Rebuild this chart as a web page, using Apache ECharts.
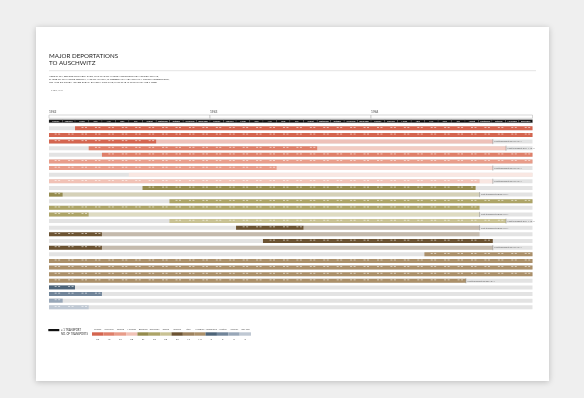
<!DOCTYPE html>
<html><head><meta charset="utf-8">
<script src="https://cdn.jsdelivr.net/npm/echarts@6/dist/echarts.min.js"></script>
<style>html,body{margin:0;padding:0;background:#efefef}#c{width:584px;height:398px}</style>
</head><body><div id="c"></div>
<script>
// ---------- data ----------
const months = ['January','February','March','April','May','June','July','August','September','October','November','December'];
const years = [1942, 1943, 1944];
const countries = ['France','Slovakia','Poland','Holland','Belgium','Germany','Czech','Greece','Italy','Hungary','Yugoslavia','Austria','Norway','OTHER'];
const transportsPerCountry = [69, 19, 97, 68, 27, 59, 63, 22, 12, 147, 3, 6, 3, 6];

const rowCountry   = [0,0,0,1,1,2,2,3,3,4,4,5,5,5,6,7,7,7,7,9,9,9,9,9,10,11,12,13];
const rowStart     = ['1942-03-01','1942-01-01','1942-01-01','1942-04-01','1942-05-01','1942-01-01','1942-01-01','1942-07-01','1942-01-01','1942-08-01',
                      '1942-01-01','1942-10-01','1942-01-01','1942-01-01','1942-10-01','1943-03-01','1942-01-01','1943-05-01','1942-01-01','1944-05-01',
                      '1942-01-01','1942-01-01','1942-01-01','1942-01-01','1942-01-01','1942-01-01','1942-01-01','1942-01-01'];
const rowActiveEnd = ['1945-01-01','1945-01-01','1942-09-01','1943-09-01','1945-01-01','1945-01-01','1943-06-01','1942-07-01','1944-09-03','1944-08-25',
                      '1942-02-01','1945-01-01','1944-09-03','1942-04-01','1944-11-02','1943-08-01','1942-05-01','1944-10-03','1942-05-01','1945-01-01',
                      '1945-01-01','1945-01-01','1945-01-01','1944-08-03','1942-03-01','1942-05-01','1942-02-01','1942-04-01'];
const rowEnd       = ['1945-01-01','1945-01-01','1944-10-03','1944-11-02','1945-01-01','1945-01-01','1944-10-03','1945-01-01','1944-10-03','1944-08-25',
                      '1944-09-03','1945-01-01','1944-09-03','1944-09-03','1944-11-02','1944-09-03','1944-09-03','1944-10-03','1944-10-03','1945-01-01',
                      '1945-01-01','1945-01-01','1945-01-01','1944-08-03','1942-03-01','1942-05-01','1942-02-01','1942-04-01'];
const rowLastTransport = ['','','03.10.1944','02.11.1944','','','03.10.1944','','03.10.1944','',
                          '03.09.1944','','','03.09.1944','02.11.1944','03.09.1944','','','03.10.1944','',
                          '','','','03.08.1944','','','',''];

// ---------- styles ----------
const palette = ['#d4654f','#df7f69','#e89c89','#f1c2b6','#958b4d','#ada467','#c9c294','#6c5332','#9d825e','#ab906a','#4d6479','#71859a','#98a7b8','#bfc8d3'];
function pale(hex, k){
  const n = parseInt(hex.slice(1),16);
  const r=(n>>16)&255,g=(n>>8)&255,b=n&255;
  const f=v=>Math.round(v+(255-v)*k);
  return 'rgb('+f(r)+','+f(g)+','+f(b)+')';
}
const ts = s => { const [y,m,d]=s.split('-').map(Number); return new Date(y,m-1,d).getTime(); };
const T0 = ts('1942-01-01'), T1 = ts('1945-01-01');
const FONT = 'Lato';

const rowData = rowCountry.map((c,i)=>[i, ts(rowStart[i]), ts(rowActiveEnd[i]), ts(rowEnd[i]), c]);
const headerData = [];
years.forEach((y,yi)=>months.forEach((m,mi)=>{
  headerData.push([new Date(y,mi,1).getTime(), new Date(y,mi+1,1).getTime(), yi, mi, new Date(y+1,0,1).getTime()]);
}));

function renderRow(params, api){
  const r = api.value(0);
  const s = api.value(1), a = api.value(2), e = api.value(3), c = api.value(4);
  const y = api.coord([T0, r])[1];
  const h = 4;
  const x0 = api.coord([T0, r])[0], x1 = api.coord([T1, r])[0];
  const xs = api.coord([s, r])[0], xa = api.coord([a, r])[0], xe = api.coord([e, r])[0];
  const ch = [{type:'rect', shape:{x:x0, y:y-h/2, width:x1-x0, height:h}, style:{fill:'#e3e3e3'}}];
  if (xe > xa) ch.push({type:'rect', shape:{x:xa, y:y-h/2, width:xe-xa, height:h}, style:{fill:pale(palette[c],0.6)}});
  if (xa > xs) {
    ch.push({type:'rect', shape:{x:xs, y:y-h/2, width:xa-xs, height:h}, style:{fill:palette[c]}});
    const mw = (x1-x0)/36;
    for (let k=0;k<36;k++){
      const mx = x0 + k*mw;
      [0.42,0.68].forEach(f=>{
        const px = mx + f*mw;
        if (px >= xs && px + 2 <= xa) ch.push({type:'rect', shape:{x:px, y:y-h/2+0.7, width:2, height:0.8}, style:{fill:'rgba(255,255,255,0.7)'}});
      });
    }
  }
  const lbl = rowLastTransport[r];
  if (lbl) {
    ch.push({type:'line', shape:{x1:xe, y1:y-h/2-0.6, x2:xe, y2:y+h/2+0.6}, style:{stroke:'#777', lineWidth:0.4}});
    ch.push({type:'text', style:{text:'Last transport '+lbl, x:xe+1.5, y:y, verticalAlign:'middle', fill:'#666', fontSize:2.4, fontFamily:FONT}});
  }
  return {type:'group', children:ch};
}

function renderHeader(params, api){
  const cs = params.coordSys;
  const xa = api.coord([api.value(0),0])[0], xb = api.coord([api.value(1),0])[0];
  const yi = api.value(2), mi = api.value(3);
  const ch = [
    {type:'rect', shape:{x:xa, y:cs.y+4.7, width:xb-xa, height:3}, style:{fill:'#111', stroke:'#777', lineWidth:0.25}},
    {type:'text', style:{text:months[mi], x:(xa+xb)/2, y:cs.y+6.25, align:'center', verticalAlign:'middle', fill:'#fff', fontSize:2.1, fontFamily:FONT}}
  ];
  if (mi === 0) {
    const xe = api.coord([api.value(4),0])[0];
    ch.push({type:'rect', shape:{x:xa, y:cs.y, width:xe-xa, height:3.3}, style:{fill:'#fff', stroke:'#999', lineWidth:0.4}});
    ch.push({type:'text', style:{text:String(years[yi]), x:xa, y:cs.y-3.2, verticalAlign:'middle', fill:'#444', fontSize:3.2, fontFamily:FONT}});
  }
  return {type:'group', children:ch};
}

const chart = echarts.init(document.getElementById('c'), null, {renderer:'canvas'});
chart.setOption({
  animation:false,
  backgroundColor:'#efefef',
  graphic:[
    {type:'rect', z:-10, shape:{x:36, y:27, width:513, height:354}, style:{fill:'#fff', shadowBlur:6, shadowColor:'rgba(0,0,0,0.22)', shadowOffsetY:1}},
    {type:'text', z:5, style:{text:'MAJOR DEPORTATIONS\nTO AUSCHWITZ', x:49, y:52, fill:'#222', fontSize:6.2, lineHeight:7.5, fontFamily:FONT}},
    {type:'line', z:5, shape:{x1:49, y1:70.7, x2:536, y2:70.7}, style:{stroke:'#c8c8c8', lineWidth:0.5}},
    {type:'text', z:5, style:{text:'HERE THEN, BEFORE OUR VERY EYES, WAS ONE OF THOSE NOTORIOUS TRANSPORT TRAINS,\nTHOSE WHICH NEVER RETURN, AND OF WHICH, SHUDDERING AND ALWAYS A LITTLE INCREDULOUS,\nWE HAD SO OFTEN HEARD SPEAK. EXACTLY LIKE THIS; THIS TIME IT IS US WHO ARE INSIDE', x:49, y:74.5, fill:'#333', fontSize:2.5, lineHeight:3.2, fontFamily:FONT}},
    {type:'text', z:5, style:{text:'— P. LEVI, 1947', x:49, y:89.8, fill:'#666', fontSize:2, fontFamily:FONT}},
    {type:'rect', z:5, shape:{x:48.3, y:329, width:11, height:2.2}, style:{fill:'#111'}},
    {type:'text', z:5, style:{text:'= 1 TRANSPORT', x:61, y:330.1, verticalAlign:'middle', fill:'#333', fontSize:2.7, fontFamily:FONT}},
    {type:'text', z:5, style:{text:'NO. OF TRANSPORTS', x:61, y:334.1, verticalAlign:'middle', fill:'#333', fontSize:2.7, fontFamily:FONT}}
  ],
  grid:[
    {left:49, top:125, width:483.5, height:185.6},
    {left:49, top:115, width:483.5, height:7.7},
    {left:92, top:332.3, width:159, height:3.4}
  ],
  xAxis:[
    {type:'time', gridIndex:0, min:T0, max:T1, show:false},
    {type:'time', gridIndex:1, min:T0, max:T1, show:false},
    {type:'category', gridIndex:2, data:countries, position:'top', axisLine:{show:false}, axisTick:{show:false},
     axisLabel:{interval:0, fontSize:2.5, color:'#555', margin:1.3, fontFamily:FONT}}
  ],
  yAxis:[
    {type:'category', gridIndex:0, data:rowCountry.map((c,i)=>String(i)), inverse:true, show:false},
    {type:'value', gridIndex:1, min:0, max:1, show:false},
    {type:'value', gridIndex:2, min:0, max:1, show:false}
  ],
  series:[
    {type:'custom', xAxisIndex:0, yAxisIndex:0, renderItem:renderRow, data:rowData, encode:{x:[1,2,3], y:0}, clip:false},
    {type:'custom', xAxisIndex:1, yAxisIndex:1, renderItem:renderHeader, data:headerData, encode:{x:[0,1]}, clip:false},
    {type:'bar', xAxisIndex:2, yAxisIndex:2, barWidth:'100%',
     data:countries.map((c,i)=>({value:1, itemStyle:{color:palette[i]}})),
     label:{show:true, position:'bottom', distance:2, fontSize:2.5, color:'#555', fontFamily:FONT,
            formatter:p=>String(transportsPerCountry[p.dataIndex])}}
  ]
});
</script>
</body></html>
